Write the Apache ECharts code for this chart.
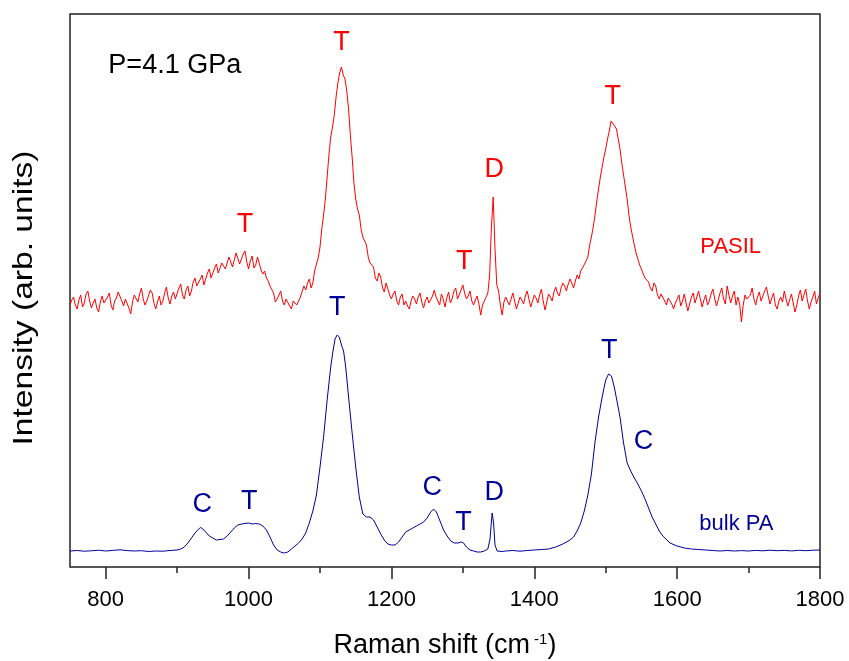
<!DOCTYPE html>
<html><head><meta charset="utf-8">
<script src="https://cdn.jsdelivr.net/npm/echarts@6/dist/echarts.min.js"></script>
<style>html,body{margin:0;padding:0;background:#fff}#c{width:849px;height:661px}</style>
</head><body><div id="c"></div>
<script>
const FONT = '"Liberation Sans", Arial, Helvetica, sans-serif';
const xMin = 750, xMax = 1800;
const majorTicks = [800, 1000, 1200, 1400, 1600, 1800];
const minorTicks = [800, 900, 1000, 1100, 1200, 1300, 1400, 1500, 1600, 1700, 1800];

// PASIL spectrum, sampled every 2.5 cm-1 from 750 cm-1 (arb. units)
const pasilStart = 750, pasilStep = 2.5;
const pasilIntensity = [
  262,267,270,262,258,267,272,260,264,273,276,266,259,264,268,259,255,265,271,264,
  263,270,274,262,257,266,269,275,276,266,261,268,270,259,253,265,272,270,265,273,
  279,268,262,266,268,277,274,264,258,265,271,262,266,274,280,269,263,271,275,268,
  270,279,283,272,268,277,281,271,276,285,289,281,279,288,292,282,284,294,298,289,
  290,299,303,294,296,304,306,298,299,310,309,300,301,314,312,303,304,313,316,305,
  298,306,311,299,302,310,308,297,293,296,289,286,281,279,274,265,268,272,276,266,
  262,268,270,261,258,266,268,262,264,270,272,281,277,284,288,279,284,296,303,309,
  320,338,352,368,390,412,430,440,452,470,484,494,500,492,488,476,458,432,410,384,
  368,358,352,338,330,329,322,310,304,306,300,289,286,294,290,279,275,284,282,272,
  268,273,276,266,262,270,273,262,266,261,258,266,271,268,263,270,274,265,259,266,
  270,264,262,271,277,270,266,262,273,268,260,269,275,264,268,276,279,268,270,277,
  282,274,268,271,276,266,262,267,271,263,252,262,266,270,274,292,340,370,318,282,
  276,262,252,265,270,266,262,268,274,266,258,264,270,267,263,271,276,268,260,266,
  272,269,264,272,278,266,257,265,273,270,266,275,280,274,271,279,284,281,276,283,
  288,284,279,286,292,288,296,299,300,306,310,322,330,340,352,366,378,390,400,410,
  418,428,436,446,444,441,438,428,418,404,392,380,368,352,340,331,322,314,308,302,
  298,293,289,291,285,279,276,284,281,272,268,273,275,266,262,269,270,263,258,264,
  268,272,261,266,273,264,256,263,270,274,264,270,276,268,260,267,272,262,266,273,
  278,269,261,267,274,279,268,263,281,272,264,271,276,262,270,263,245,262,272,268,
  266,272,279,268,262,270,275,266,268,276,280,271,263,269,274,262,258,266,270,265,
  276,268,261,267,273,264,255,262,271,277,266,272,278,266,258,265,270,276,263,269,
  274
];

// bulk PA spectrum [Raman shift, intensity]
const bulkPA = [
  [750,16],[760,16.5],[770,15.8],[780,16.2],[790,16.8],[800,16],[810,16.6],[820,17.2],[830,16.4],[840,16],
  [850,16.3],[860,15.5],[870,16],[880,15.8],[890,16.5],[900,17],[905,18],[910,20],[915,24],[920,29],
  [925,34],[930,38],[933,39.5],[936,38],[940,35],[945,31],[950,29],[955,27],[960,27.5],[965,28],
  [970,31],[975,35],[980,39],[985,42],[990,43],[995,43.5],[1000,44],[1005,43],[1010,43.5],[1015,43],
  [1020,41],[1025,37],[1030,30],[1035,22],[1040,17],[1045,15],[1050,14],[1055,15],[1060,18],[1065,21],
  [1070,24],[1075,28],[1080,34],[1085,44],[1090,56],[1095,72],[1100,100],[1105,130],[1110,167],[1115,200],
  [1118,215],[1121,228],[1124,232],[1127,230],[1130,222],[1133,216],[1136,200],[1140,170],[1145,134],[1150,100],
  [1155,70],[1160,53],[1165,50],[1170,50],[1175,47],[1180,40],[1185,33],[1190,27],[1195,23],[1200,22],
  [1205,22],[1210,25],[1215,30],[1220,35],[1225,37],[1230,39],[1235,41],[1240,43],[1245,45],[1250,49],
  [1255,55],[1259,58],[1263,55],[1268,46],[1273,37],[1278,31],[1283,26],[1288,24],[1293,24],[1298,25],
  [1301,24],[1305,20],[1310,17],[1315,16],[1320,15],[1325,15],[1330,16],[1335,18],[1338,28],[1341,54],
  [1343,44],[1345,22],[1348,16],[1355,15.5],[1360,16],[1370,16.5],[1380,15.8],[1390,16.5],[1400,17],[1410,17.5],
  [1420,18],[1430,20],[1440,23],[1450,27],[1455,30],[1460,36],[1465,44],[1470,56],[1475,72],[1480,93],
  [1485,125],[1490,150],[1495,170],[1500,187],[1504,193],[1508,191],[1512,180],[1516,165],[1520,150],[1525,124],
  [1530,104],[1535,96],[1540,89],[1545,83],[1550,76],[1555,68],[1560,59],[1565,50],[1570,43],[1575,36],
  [1580,31],[1590,24],[1600,21],[1610,19],[1620,18],[1630,17.5],[1640,17],[1650,16.5],[1660,16],[1670,16.5],
  [1680,16],[1690,16.4],[1700,16],[1710,16.6],[1720,16.2],[1730,16.8],[1740,16.3],[1750,16.6],[1760,16.1],[1770,16.7],
  [1780,16.3],[1790,16.8],[1800,17]
];

// peak annotations [text, Raman shift, intensity, fontSize]
const pasilMarks = [['T',995,342],['T',1130,524],['T',1302,305],['D',1344,397],['T',1510,470],['PASIL',1675,320,22]];
const bulkMarks = [['C',935,62],['T',1001,65],['T',1124,259],['C',1257,79],['T',1301,44],['D',1344,74],['T',1505,216],['C',1553,125],['bulk PA',1683,43,22]];
const pressureText = [['P=4.1 GPa',803,501]];

const RED = '#ff0000', BLUE = '#000099';
const pasilData = pasilIntensity.map((v, i) => [pasilStart + i * pasilStep, v]);

function markSeries(data, color, pos) {
  return {
    type: 'scatter',
    data: data.map(d => ({value: [d[1], d[2]], name: d[0], label: {fontSize: d[3] || 27}})),
    symbol: 'circle', symbolSize: 1, itemStyle: {color: 'rgba(0,0,0,0)', opacity: 1}, silent: true,
    label: {show: true, position: pos, distance: 0, color: color, fontFamily: FONT,
      textBorderWidth: 0, opacity: 1, formatter: p => p.name, fontSize: 27},
    z: 5
  };
}

const chart = echarts.init(document.getElementById('c'), null, {renderer: 'canvas'});
chart.setOption({
  animation: false,
  backgroundColor: '#fff',
  grid: {left: 70, right: 29, top: 14, bottom: 94, outerBoundsMode: 'none', containLabel: false,
    show: true, borderColor: '#222', borderWidth: 1.5, backgroundColor: 'rgba(0,0,0,0)'},
  xAxis: [{
    type: 'value', min: xMin, max: xMax, position: 'bottom',
    axisLine: {show: false},
    axisTick: {show: true, customValues: majorTicks, length: 12, lineStyle: {color: '#222', width: 1.5}},
    axisLabel: {customValues: majorTicks, fontSize: 22, color: '#000', margin: 22, fontFamily: FONT, formatter: v => String(v)},
    splitLine: {show: false},
    name: 'Raman shift (cm{sup|-1})', nameLocation: 'middle', nameGap: 63,
    nameTextStyle: {fontSize: 27, color: '#000', fontFamily: FONT, lineHeight: 32,
      rich: {sup: {fontSize: 15, lineHeight: 15, verticalAlign: 'top', color: '#000', fontFamily: FONT, padding: [2, 0, 0, 4]}}}
  }, {
    type: 'value', min: xMin, max: xMax, position: 'bottom',
    axisLine: {show: false},
    axisTick: {show: true, customValues: minorTicks, length: 6, lineStyle: {color: '#222', width: 1.5}},
    axisLabel: {show: false}, splitLine: {show: false}
  }],
  yAxis: {type: 'value', min: 0, max: 553, show: false},
  graphic: [{
    type: 'text', x: 24, y: 298, rotation: Math.PI / 2, scaleX: 1.2,
    style: {text: 'Intensity (arb. units)', fill: '#000', font: '28px ' + FONT, align: 'center', verticalAlign: 'middle'}
  }],
  series: [
    {type: 'line', data: pasilData, showSymbol: false, symbol: 'none', lineStyle: {color: RED, width: 1}, itemStyle: {color: RED}, z: 3},
    {type: 'line', data: bulkPA, showSymbol: false, symbol: 'none', lineStyle: {color: BLUE, width: 1}, itemStyle: {color: BLUE}, z: 3},
    markSeries(pasilMarks, RED, 'inside'),
    markSeries(bulkMarks, BLUE, 'inside'),
    markSeries(pressureText, '#000', 'right')
  ]
});
</script></body></html>
